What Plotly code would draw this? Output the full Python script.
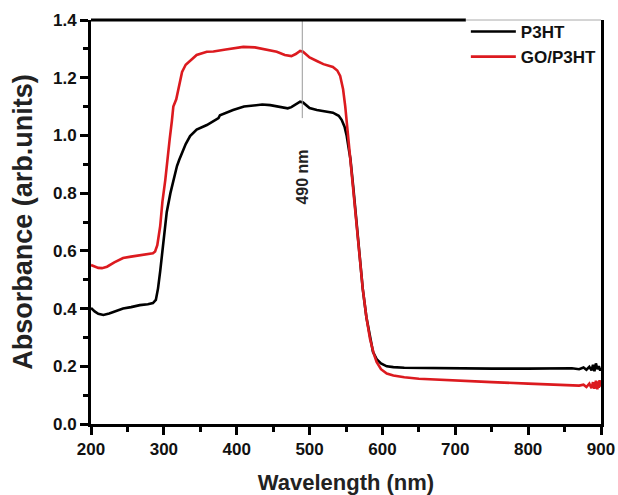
import plotly.graph_objects as go

# ---- data ----
wl_p3ht = [200, 205, 210, 217, 225, 235, 244, 255, 267, 278, 285, 289, 292, 295, 299, 304, 309, 313, 316, 318,
           321, 325, 330, 336, 345, 359, 368, 375, 377, 385, 395, 410, 423, 435, 446, 456, 464, 470, 475, 481,
           487, 491, 495, 500, 510, 520, 532, 540, 544, 548, 551, 554, 556, 560, 565, 569, 573, 578, 583, 587,
           592, 598, 606, 615, 630, 660, 700, 750, 800, 840, 860, 870, 876, 880, 884, 887, 889, 891, 893, 895,
           897, 899, 900]
ab_p3ht = [0.402, 0.39, 0.382, 0.378, 0.383, 0.393, 0.40, 0.405, 0.412, 0.415, 0.419, 0.43, 0.47, 0.53, 0.63, 0.735, 0.80, 0.846, 0.87, 0.894,
           0.915, 0.94, 0.97, 0.998, 1.02, 1.036, 1.05, 1.06, 1.07, 1.078, 1.088, 1.10, 1.105, 1.107, 1.105, 1.10, 1.095, 1.094, 1.098, 1.107,
           1.117, 1.114, 1.105, 1.095, 1.088, 1.084, 1.079, 1.068, 1.054, 1.03, 0.998, 0.95, 0.92, 0.82, 0.686, 0.57, 0.468, 0.37, 0.30, 0.25,
           0.225, 0.21, 0.20, 0.197, 0.195, 0.194, 0.193, 0.192, 0.192, 0.191, 0.193, 0.19, 0.196, 0.188, 0.198, 0.186, 0.205, 0.183, 0.21, 0.19,
           0.20, 0.185, 0.195]

wl_go = [200, 205, 210, 215, 222, 232, 244, 255, 267, 278, 285, 288, 291, 295, 298, 302, 305, 308, 311, 313,
         317, 321, 325, 330, 336, 345, 359, 368, 385, 409, 425, 441, 455, 466, 475, 481, 487, 491, 495, 500,
         510, 519, 532, 538, 542, 546, 549, 552, 556, 560, 565, 569, 573, 578, 583, 588, 592, 598, 606, 615,
         630, 650, 700, 750, 800, 840, 860, 870, 876, 880, 884, 887, 889, 891, 893, 895, 896, 897, 898, 899,
         900]
ab_go = [0.551, 0.545, 0.541, 0.54, 0.545, 0.56, 0.575, 0.58, 0.585, 0.589, 0.592, 0.598, 0.62, 0.686, 0.77, 0.846, 0.93, 0.987, 1.05, 1.10,
         1.125, 1.17, 1.22, 1.245, 1.26, 1.279, 1.29, 1.291, 1.298, 1.307, 1.305, 1.298, 1.29, 1.279, 1.275, 1.282, 1.293, 1.29, 1.28, 1.27,
         1.258, 1.247, 1.237, 1.225, 1.206, 1.16, 1.10, 1.02, 0.928, 0.81, 0.686, 0.575, 0.468, 0.37, 0.295, 0.245, 0.215, 0.19, 0.175, 0.168,
         0.162, 0.157, 0.15, 0.145, 0.14, 0.136, 0.134, 0.133, 0.136, 0.128, 0.14, 0.124, 0.145, 0.122, 0.15, 0.12, 0.148, 0.125, 0.152, 0.13,
         0.14]

series_names = ["P3HT", "GO/P3HT"]
series_colors = ["#000000", "#dc1a1f"]

peak_nm = 490
peak_line_range = [1.06, 1.4]
peak_label = "490 nm"
peak_label_y = 0.855

x_ticks = [200, 300, 400, 500, 600, 700, 800, 900]
y_ticks = [0.0, 0.2, 0.4, 0.6, 0.8, 1.0, 1.2, 1.4]
y_tick_labels = ["0.0", "0.2", "0.4", "0.6", "0.8", "1.0", "1.2", "1.4"]

FONT = "Liberation Sans, Arial, sans-serif"
LEGEND_LEFT = 0.735   # paper fraction where the legend box starts

fig = go.Figure()
fig.add_trace(go.Scatter(x=wl_p3ht, y=ab_p3ht, mode="lines", name="<b>" + series_names[0] + "</b>",
                         line=dict(color=series_colors[0], width=2.6)))
fig.add_trace(go.Scatter(x=wl_go, y=ab_go, mode="lines", name="<b>" + series_names[1] + "</b>",
                         line=dict(color=series_colors[1], width=2.6)))

fig.add_shape(type="line", xref="x", yref="y", x0=peak_nm, x1=peak_nm,
              y0=peak_line_range[0], y1=peak_line_range[1],
              line=dict(color="#999999", width=1))
fig.add_annotation(x=peak_nm, y=peak_label_y, xref="x", yref="y", text="<b>" + peak_label + "</b>",
                   textangle=-90, showarrow=False, xanchor="center", yanchor="middle",
                   font=dict(family=FONT, size=16, color="#222"))

# top frame: thick black, then thin grey behind the legend
fig.add_shape(type="line", xref="paper", yref="paper", x0=0, x1=LEGEND_LEFT, y0=1, y1=1,
              line=dict(color="black", width=3))
fig.add_shape(type="line", xref="paper", yref="paper", x0=LEGEND_LEFT, x1=1, y0=1, y1=1,
              line=dict(color="#aaaaaa", width=1))

tick_common = dict(ticks="outside", tickwidth=2.5, ticklen=8, tickcolor="black",
                   showgrid=False, zeroline=False, automargin=False,
                   tickfont=dict(family=FONT, size=17, color="#111"))

fig.update_xaxes(range=[200, 900], tickvals=x_ticks,
                 ticktext=["<b>%d</b>" % v for v in x_ticks],
                 showline=True, linecolor="black", linewidth=3, mirror=False,
                 minor=dict(ticks="outside", dtick=50, ticklen=5, tickwidth=2.5, tickcolor="black"),
                 title=dict(text="<b>Wavelength (nm)</b>", font=dict(family=FONT, size=22, color="#222"), standoff=17),
                 **tick_common)
fig.update_yaxes(range=[0, 1.4], tickvals=y_ticks,
                 ticktext=["<b>%s</b>" % t for t in y_tick_labels],
                 showline=True, linecolor="black", linewidth=3, mirror=True,
                 minor=dict(ticks="outside", dtick=0.1, ticklen=5, tickwidth=2.5, tickcolor="black"),
                 title=dict(text="<b>Absorbance (arb.units)</b>", font=dict(family=FONT, size=27, color="#222"), standoff=13),
                 **tick_common)

fig.update_layout(
    width=618, height=495,
    margin=dict(l=91, r=17, t=20, b=71),
    paper_bgcolor="white", plot_bgcolor="white",
    showlegend=True,
    legend=dict(x=LEGEND_LEFT, y=1.015, xanchor="left", yanchor="top",
                bgcolor="rgba(0,0,0,0)", borderwidth=0,
                font=dict(family=FONT, size=17, color="#111"),
                itemwidth=45, tracegroupgap=0),
)

fig.write_html("out.html", config={"displayModeBar": False},
               post_script="document.body.style.margin='0';document.body.style.overflow='hidden';")
